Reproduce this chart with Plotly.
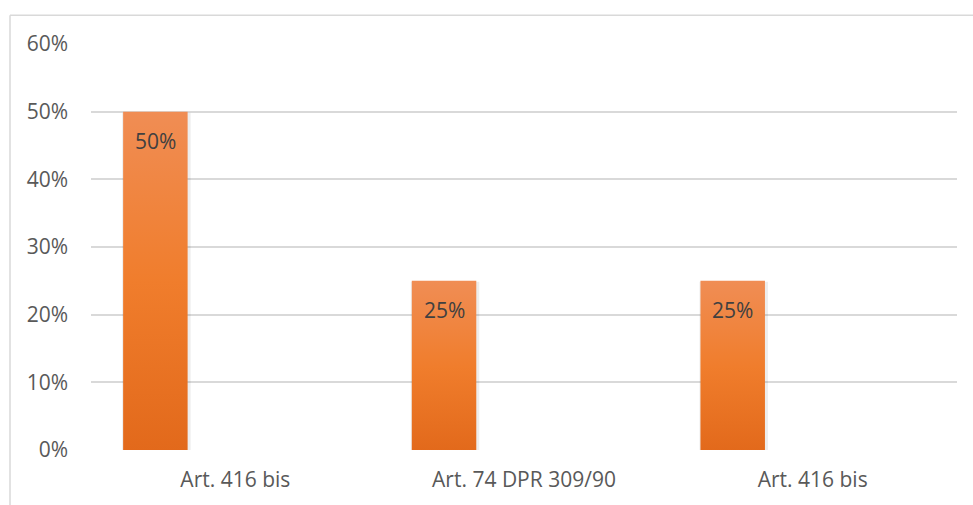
import plotly.graph_objects as go

# Chart data
categories = ["Art. 416 bis", "Art. 74 DPR 309/90", "Art. 416 bis"]
shares = [0.50, 0.25, 0.25]
y_ticks = [0, 0.1, 0.2, 0.3, 0.4, 0.5, 0.6]
y_tick_labels = ["0%", "10%", "20%", "30%", "40%", "50%", "60%"]

FONT = "Open Sans"
BAR_OFFSET = -0.277   # bar sits left of the category centre
BAR_WIDTH = 0.2234
PX_X = 1 / 288.67     # one pixel in x data units
PX_Y = 0.6 / 408      # one pixel in y data units

fig = go.Figure()

positions = list(range(len(categories)))
for i, v in zip(positions, shares):
    c = i + BAR_OFFSET
    x0, x1 = c - BAR_WIDTH / 2, c + BAR_WIDTH / 2
    # soft shadow behind the bar
    fig.add_trace(go.Scatter(
        x=[x0 - 1 * PX_X, x1 + 3 * PX_X, x1 + 3 * PX_X, x0 - 1 * PX_X, x0 - 1 * PX_X],
        y=[-3 * PX_Y, -3 * PX_Y, v - 1 * PX_Y, v - 1 * PX_Y, -3 * PX_Y],
        mode="lines", line=dict(width=0), fill="toself",
        fillcolor="rgba(0,0,0,0.07)", hoverinfo="skip", showlegend=False,
    ))
    # bar with vertical orange gradient
    fig.add_trace(go.Scatter(
        x=[x0, x1, x1, x0, x0],
        y=[0, 0, v, v, 0],
        mode="lines", line=dict(width=0), fill="toself",
        fillgradient=dict(
            type="vertical", start=0, stop=v,
            colorscale=[[0, "#E2691B"], [0.5, "#F07D2C"], [1, "#F08D54"]],
        ),
        hoverinfo="skip", showlegend=False,
    ))
    fig.add_annotation(
        x=c, y=v, xref="x", yref="y",
        text=f"{v:.0%}", showarrow=False,
        yanchor="top", yshift=-13,
        font=dict(family=FONT, size=21, color="#404040"),
    )

# outer chart border (top and left edges visible)
fig.add_shape(type="line", xref="paper", yref="paper",
              x0=-81 / 866, x1=1.2, y0=(452 - 15) / 408, y1=(452 - 15) / 408,
              line=dict(color="#D9D9D9", width=1.5))
fig.add_shape(type="line", xref="paper", yref="paper",
              x0=-81 / 866, x1=-81 / 866, y0=(452 - 15) / 408, y1=-0.2,
              line=dict(color="#D9D9D9", width=1.5))

fig.update_layout(
    width=973, height=505,
    margin=dict(l=91, r=16, t=44, b=53),
    paper_bgcolor="white", plot_bgcolor="white",
    showlegend=False,
    xaxis=dict(
        range=[-0.5, 2.5], tickmode="array", tickvals=positions, ticktext=categories,
        showgrid=False, zeroline=False, showline=False, ticks="",
        tickfont=dict(family=FONT, size=21, color="#595959"),
        ticklabelstandoff=15, fixedrange=True,
    ),
    yaxis=dict(
        range=[0, 0.6], tickmode="array", tickvals=y_ticks, ticktext=y_tick_labels,
        showgrid=True, gridcolor="#D9D9D9", gridwidth=1.5,
        zeroline=False, showline=False, ticks="",
        tickfont=dict(family=FONT, size=21, color="#595959"),
        ticklabelstandoff=22, fixedrange=True,
    ),
)

fig.write_html("out.html")
